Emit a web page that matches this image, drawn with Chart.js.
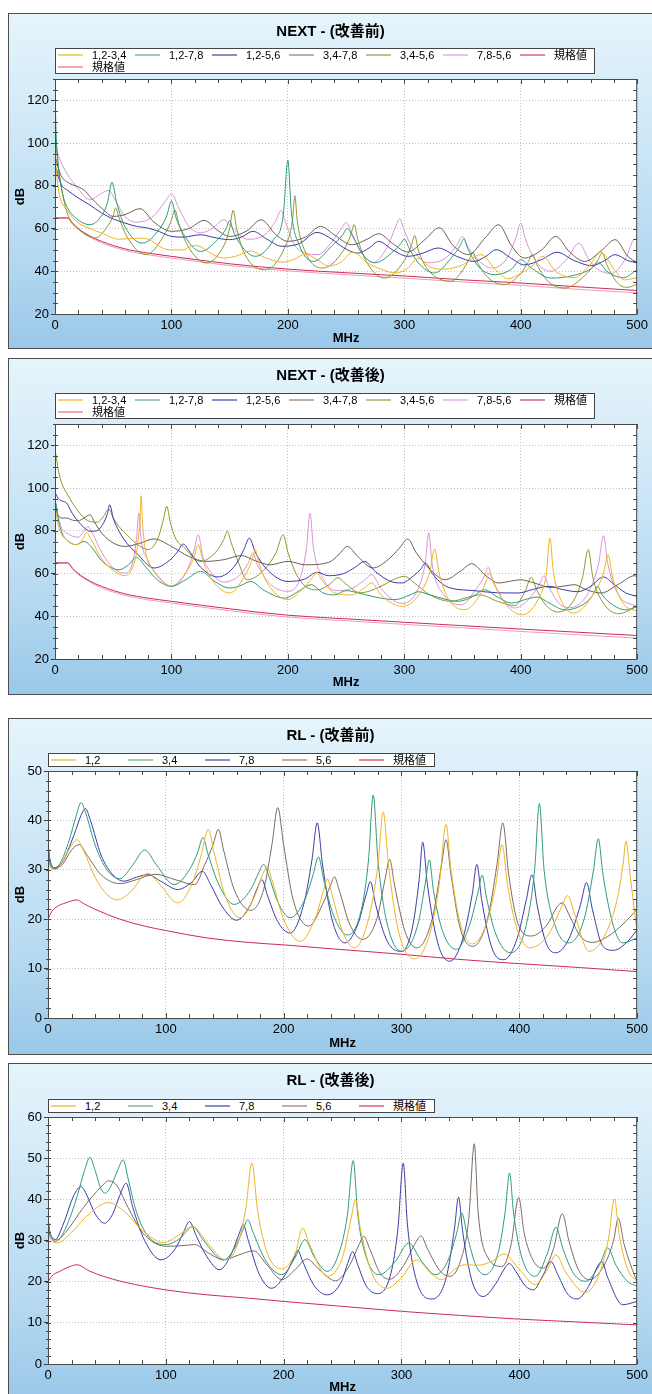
<!DOCTYPE html>
<html>
<head>
<meta charset="utf-8">
<script src="https://cdn.jsdelivr.net/npm/chart.js@4.4.0/dist/chart.umd.min.js"></script>
<style>
  body { margin: 0; width: 652px; height: 1394px; overflow: hidden; background: #fff; position: relative;
         font-family: "Liberation Sans", Arial, "Noto Sans CJK JP", sans-serif; }
  .panel { position: absolute; left: 8px; width: 645px; border: 1px solid #4d4d4d; box-sizing: border-box;
           background: linear-gradient(to bottom, #e6f4fc 0%, #d2eaf8 30%, #b7daf1 70%, #9ac8e9 100%); }
  .panel canvas { position: absolute; left: 0; top: 0; }
  .ttl { position: absolute; left: 0; width: 643px; text-align: center; font-weight: bold; font-size: 15px;
         line-height: 18px; color: #000; }
  .lg { position: absolute; background: #fff; border: 1px solid #444; box-sizing: border-box; }
  .li { position: absolute; height: 12px; line-height: 12px; font-size: 11px; padding-left: 34px; white-space: nowrap; color: #000; }
  .sw { position: absolute; left: 0; top: 5px; width: 25px; height: 2px; }
</style>
</head>
<body>

<div class="panel" style="top:13px;height:336px">
  <canvas id="c1" width="643" height="334"></canvas>
  <div class="ttl" style="top:8px">NEXT - (改善前)</div>
  <div class="lg" id="l1" style="left:46px;top:34px;width:540px;height:26px"></div>
</div>
<div class="panel" style="top:358px;height:337px">
  <canvas id="c2" width="643" height="335"></canvas>
  <div class="ttl" style="top:7px">NEXT - (改善後)</div>
  <div class="lg" id="l2" style="left:46px;top:34px;width:540px;height:26px"></div>
</div>
<div class="panel" style="top:718px;height:337px">
  <canvas id="c3" width="643" height="335"></canvas>
  <div class="ttl" style="top:7px">RL - (改善前)</div>
  <div class="lg" id="l3" style="left:39px;top:34px;width:387px;height:14px"></div>
</div>
<div class="panel" style="top:1063px;height:337px">
  <canvas id="c4" width="643" height="335"></canvas>
  <div class="ttl" style="top:7px">RL - (改善後)</div>
  <div class="lg" id="l4" style="left:39px;top:35px;width:387px;height:14px"></div>
</div>

<script>
// axes
const xTicks = [0, 100, 200, 300, 400, 500];
const nextTicks = [20, 40, 60, 80, 100, 120];
const rl1Ticks = [0, 10, 20, 30, 40, 50];
const rl2Ticks = [0, 10, 20, 30, 40, 50, 60];

const nextLabels = ['1,2-3,4', '1,2-7,8', '1,2-5,6', '3,4-7,8', '3,4-5,6', '7,8-5,6', '規格値', '規格値'];
const rlLabels = ['1,2', '3,4', '7,8', '5,6', '規格値'];
const nextColors = ['#f0b322', '#2f9b7b', '#3b3ba6', '#6e5f54', '#8b982c', '#d894d6', '#cc2c57', '#f29db3'];
const nextLegendColors = ['#efd47e', '#9ecab6', '#8590c8', '#bfb0a5', '#bcc48e', '#e8c6e8', '#de8b9c', '#f2a6b8'];
const rlColors = ['#f0b322', '#2f9b7b', '#3b3ba6', '#7a6c62', '#cc2c57'];
const rlLegendColors = ['#efd47e', '#9ecab6', '#8590c8', '#bfb0a5', '#de8b9c'];

// NEXT 改善前
const n1_1234 = [[0,96],[1,88],[3,78],[5,73.5],[10,68.8],[20,62.6],[30,60],[40,57.9],[55,55],[70,55.5],[80,55],[92,51],[100,50],[110,50],[118,52],[125,51.5],[135,48],[145,46.2],[155,47],[168,49.5],[180,46.5],[195,44.3],[205,45.5],[215,48],[225,45.5],[235,42.5],[245,44],[256,49],[268,44],[280,41],[292,39.2],[302,41],[312,46],[322,42],[335,41],[350,43],[366,47.8],[378,41],[389,36.5],[400,39],[410,42.5],[419,47],[430,40],[446,37],[458,42],[469,48.9],[480,41],[489,36],[500,37]];
const n1_1278 = [[0,126],[1,104],[2,95],[4,84],[7,75],[10,70.4],[20,64],[30,61.8],[40,66],[45,72],[49,81.6],[53,72],[60,61],[75,53.2],[90,60],[96,66],[100,73],[104,65],[112,56],[125,49.3],[140,55],[147,60],[150,63.8],[153,59],[160,52],[172,47],[188,55],[196,66],[200,92],[203,68],[210,52],[222,44.6],[238,52],[247,57],[251,60],[256,56],[264,48],[275,44],[290,49],[297,53],[300,55.1],[304,51],[312,44],[326,39.2],[340,46],[348,52],[351,55.1],[355,50],[364,42],[378,38.4],[392,41],[400,45.4],[408,42],[426,36.8],[445,38],[460,41],[467,44],[474,40],[488,37],[500,40.7]];
const n1_1256 = [[0,86],[1,88],[3,84],[6,80],[10,78.2],[20,74.3],[30,71],[40,67.3],[50,64.5],[60,62.6],[70,61],[80,60.2],[90,58.5],[100,56.3],[110,56],[125,57.1],[135,56],[150,54.8],[160,56],[170,58.7],[182,55],[195,51.7],[210,53],[225,58.2],[235,56],[248,51],[260,48.5],[270,51],[278,54],[290,50],[303,47],[316,48.5],[329,50.9],[345,47],[360,44.6],[370,47],[379,50.1],[392,46],[403,43],[418,45.5],[431,48.9],[446,45],[461,42.6],[472,45],[481,47.8],[492,45],[500,43.9]];
const n1_3478 = [[0,95],[1,92],[3,88],[6,84],[10,82],[15,80.5],[20,79.5],[25,78],[30,75],[40,69.6],[50,65.7],[60,66.5],[73,69.3],[85,63],[100,58.7],[115,60],[128,63.8],[140,59],[150,56.3],[165,59],[177,64.1],[190,57],[200,54],[215,56],[228,61],[240,57],[255,52.4],[268,55],[278,57.6],[290,53],[303,49],[318,55],[330,60.4],[342,52],[355,47.8],[370,56],[381,61.8],[392,52],[403,46.2],[418,50],[430,56.3],[442,49],[455,44.6],[470,50],[481,54.8],[492,47],[500,44]];
const n1_3456 = [[0,110],[1,100],[3,88],[6,78],[10,68],[20,60],[35,55.6],[45,61],[50,66],[52,69.6],[55,65],[62,56],[78,47.8],[95,58],[100,64],[103,68.8],[106,63],[114,52],[130,43.9],[145,52],[150,60],[153,68.5],[156,60],[163,48],[180,40.7],[198,52],[204,64],[206,75.4],[208,64],[215,49],[230,41.5],[248,50],[254,57],[257,61.8],[260,55],[268,44],[283,36.8],[300,45],[306,52],[309,56.7],[312,50],[320,41],[340,35.3],[352,42],[356,46],[359,48.9],[362,45],[372,37],[386,33.7],[400,39],[406,44],[410,47.8],[414,43],[424,35],[438,32.2],[455,38],[466,45],[470,48.5],[474,43],[484,34],[492,32.5],[500,34]];
const n1_7856 = [[0,92],[1,97],[3,94],[6,90],[10,86],[15,82],[20,78.5],[30,73.5],[40,76.5],[46,77.9],[52,73],[60,65.7],[70,63],[85,66],[95,73],[100,76.2],[106,70],[115,61],[125,58],[135,60],[145,64.1],[153,60],[165,55],[180,57],[190,64],[194,68.5],[198,63],[205,53],[215,48.5],[226,47.8],[238,54],[246,60],[250,62.9],[254,59],[262,50],[273,44],[285,51],[292,60],[296,64.6],[300,59],[308,50],[320,44],[335,46],[345,52],[350,56.3],[355,51],[364,45],[375,41.5],[388,46],[396,56],[400,62.6],[404,55],[414,44],[426,40],[440,46],[450,53.2],[458,46],[466,41],[478,39],[490,46],[498,55.1],[500,54]];
const n1_limA = [[0,65],[11,65],[15,62.5],[20,60],[30,56.5],[40,54],[60,50.5],[80,48.5],[100,47],[150,43.5],[200,41],[250,39.3],[300,37.8],[350,36],[400,34.5],[450,32.7],[500,31]];
const n1_limB = [[0,64.8],[11,64.8],[15,62],[20,59.5],[30,56],[40,53.3],[60,49.8],[80,47.7],[100,46.2],[150,42.7],[200,40.2],[250,38.4],[300,36.8],[350,35],[400,33.4],[450,31.5],[500,29.9]];

// NEXT 改善後
const n2_1234 = [[0,90],[1,88],[3,82],[6,78],[10,75.8],[18,73.5],[24,76],[27,79.3],[31,76],[40,67],[50,61.5],[60,59],[66,62],[70,70],[73,85],[74,96.4],[75,85],[78,70],[85,61],[100,54.3],[112,60],[119,67],[123,73.5],[127,66],[135,57],[150,50.9],[162,58],[169,66],[172,71.2],[175,65],[183,55],[200,47.8],[213,53],[221,58],[225,60.6],[229,57],[240,51],[255,50],[265,53],[272,55.6],[280,50],[298,44.6],[315,52],[322,61],[326,71.5],[330,60],[338,48],[352,43.1],[365,50],[370,56],[373,60.2],[377,55],[388,45],[401,40.7],[415,48],[422,60],[425,76.6],[428,61],[435,47],[446,41.5],[462,50],[471,60],[475,68.8],[479,58],[488,46],[500,42.3]];
const n2_1278 = [[0,94],[1,92],[3,85],[6,79],[10,75.8],[18,73.5],[25,75],[32,72],[40,66],[55,61.8],[63,64],[70,67.6],[78,63],[88,57],[100,54],[112,57],[125,61],[138,56],[150,53.2],[160,54.5],[168,56.3],[180,52],[197,48.5],[210,52],[220,54.8],[230,51],[240,50],[250,52],[260,51],[275,49],[292,47.8],[305,50],[312,51.5],[322,50],[335,48],[346,47],[358,49],[369,52.4],[380,49],[392,46.2],[405,48],[414,49],[425,46],[438,43],[455,46],[462,50],[466,54],[470,50],[480,45],[490,43],[500,44.6]];
const n2_1256 = [[0,98],[1,97],[3,95],[6,94],[10,93],[15,88],[20,84.4],[25,81.5],[30,79.8],[36,80],[41,83],[45,88],[47,92.2],[50,86],[55,79.8],[62,74],[70,69.6],[85,62.6],[98,66],[105,70],[110,73.8],[116,70],[125,63],[140,58.4],[155,64],[162,71],[167,76.6],[172,70],[182,62],[200,56.3],[215,57.5],[225,60.6],[235,59],[248,60],[258,63],[266,65.7],[275,61],[290,56],[298,55.6],[308,59],[314,62],[318,64.9],[324,60],[333,55],[340,53.2],[360,52],[380,51],[398,50.9],[410,52.5],[424,54],[436,52.5],[449,51.5],[460,54],[471,58.4],[480,55],[490,51],[500,49.3]];
const n2_3478 = [[0,95],[1,90],[3,87],[6,86],[10,86],[15,85],[20,84.7],[25,86],[30,87.5],[34,84],[40,79],[50,74.3],[60,72.7],[72,74],[85,76.2],[100,72.7],[115,68],[130,65.7],[145,66.5],[160,68.4],[172,66],[185,64.1],[200,65.7],[215,64.1],[235,65.2],[244,69],[251,72.7],[260,68],[273,62.6],[285,66],[296,72],[303,76.2],[310,70],[322,62],[335,57.1],[348,61],[358,64.6],[370,59],[381,55.6],[392,56.5],[400,57.1],[412,55.5],[426,53.5],[438,54.2],[446,54.8],[456,52.5],[469,50.9],[484,55],[498,59],[500,58.5]];
const n2_3456 = [[0,118],[1,115],[3,108],[6,102],[10,97.7],[15,93],[20,89.1],[25,86],[30,84.4],[36,84],[42,87],[46,90.2],[50,86],[55,82],[62,78],[70,74],[80,71.2],[88,76],[93,85],[96,91.5],[99,84],[104,76],[110,72.7],[125,65.7],[138,70],[145,76],[148,79.8],[151,75],[157,66],[165,57.1],[180,62],[190,70],[196,78.2],[200,70],[207,60],[215,54],[226,52.4],[236,55],[243,58],[250,55],[262,51],[280,54],[290,57],[300,58.7],[310,55],[322,50],[340,47],[355,49],[365,50],[380,47],[395,45],[404,52],[409,58.2],[414,52],[422,45],[432,42],[445,47],[453,58],[458,71.2],[462,58],[470,47],[484,41.2],[500,44.6]];
const n2_7856 = [[0,94],[1,92],[3,86],[6,81],[10,79],[15,77.5],[20,77],[25,80],[28,82],[32,79],[40,70],[50,62.6],[60,60.2],[66,64],[70,76],[72,88.3],[74,76],[80,66],[90,58],[100,54],[112,60],[119,70],[123,78.2],[127,68],[135,60],[145,56],[160,60],[166,65],[170,69.6],[174,64],[185,55],[200,51.7],[210,57],[216,72],[219,88.3],[222,72],[230,58],[242,52],[255,53],[266,57],[272,59.5],[280,53],[298,46],[312,53],[318,65],[321,79],[324,64],[334,50],[349,45.4],[362,53],[369,59],[372,62.9],[376,57],[386,47],[395,43.9],[410,50],[417,56],[420,59],[424,54],[433,46],[442,44],[458,51],[467,65],[471,77.7],[475,64],[484,50],[500,44.6]];
const n2_limA = [[0,65],[11,65],[15,62.5],[20,60],[30,56.5],[40,54],[60,50.5],[80,48.5],[100,47],[150,43.5],[200,40.5],[250,38.8],[300,37.2],[350,35.6],[400,34],[450,32.5],[500,31]];
const n2_limB = [[0,64.8],[11,64.8],[15,62],[20,59.5],[30,56],[40,53.3],[60,49.8],[80,47.7],[100,46.2],[150,42.6],[200,39.6],[250,37.9],[300,36.2],[350,34.6],[400,32.9],[450,31.3],[500,29.8]];

// RL 改善前
const r1_12 = [[0,33],[1,31],[3,30.3],[6,30],[12,31.5],[20,35],[24.7,36.1],[30,34],[40,28.5],[50,25],[59,23.9],[70,25.5],[84.6,29.3],[95,27],[110,23.3],[122,27],[130,33],[136,38.2],[141,33.5],[150,25],[163,20.3],[176,25],[182,29],[186,30.6],[190,28],[200,20],[214,15.5],[228,21],[234,26],[237,28.2],[241,25],[250,17.5],[260,14.2],[272,20],[280,31],[284.5,41.7],[289,31],[297,18],[311,12],[324,17],[332,27],[337.8,39.2],[342,30],[350,19],[360,15],[372,19],[380,27],[385.4,35.1],[390,27],[398,18],[409,14.2],[425,17],[435,22],[441,24.8],[447,21],[459,13.5],[472,16.5],[483,24],[488,31],[490.5,35.8],[494,29],[500,17.2]];
const r1_34 = [[0,36],[1,33],[2,31.5],[4.6,30.4],[10,31.2],[18,36],[24,41],[28,43.6],[32,41.5],[40,35],[50,30],[61,28.2],[72,31],[82,34],[92,31],[107,27],[120,30],[127,33.5],[131.5,36.5],[136,33],[145,27],[158,23],[172,26],[179,29.5],[183,31.1],[187,29],[195,23.5],[205.5,20.3],[218,24],[225,29],[229.5,32.6],[234,28],[242,21],[254,16.8],[266,22],[272,32],[276,45.1],[280,32],[287,20],[300,13.5],[314,19],[320,27],[323.7,32],[327,26],[335,17.5],[346.6,13.9],[358,19],[365,25.5],[368.5,28.9],[372,24.5],[380,17],[392.5,13.2],[405,18],[413,30],[417,43.4],[421,30],[430,19],[442,15.2],[455,20],[463,30],[467,36.3],[471,29],[480,18.5],[488,15.2],[500,16.2]];
const r1_78 = [[0,36],[1,33],[3,31],[5,30.4],[12,31.5],[22,37],[28,41],[31.7,42.4],[36,40],[45,33],[55,29],[64.5,27.7],[75,28.5],[84.6,29],[97,27.5],[110,26],[122,27.5],[131,29.7],[138,27],[148,22.5],[160,19.8],[172,23],[178,26.5],[181.6,28],[186,25],[195,19.5],[205.5,17.2],[217,23],[224,32],[228.5,39.5],[233,31],[241,20],[252,15.2],[263,19],[270,25],[273.6,27.6],[278,23],[288,15.5],[300,13.5],[309,18],[315,28],[318,35.6],[322,27],[331,15],[341,11.5],[352,16],[360,25],[364,31.1],[368,24],[377,14],[387,11.8],[398,16],[406,24],[410.8,29],[415,23],[423,15],[431,13.2],[442,16],[452,23],[457,27.4],[462,22],[471,14.5],[480,13.7],[492,15.5],[500,17.9]];
const r1_56 = [[0,35],[1,32],[3,30.5],[5,30.2],[12,31],[20,34],[26.4,35.1],[33,33],[45,29],[61,27.2],[75,28],[91,29.1],[108,28],[124.5,27],[133,31],[140,35],[144.6,38.2],[149,34],[158,26],[172,21.8],[183,26],[190,35],[195,42.6],[200,35],[208,24],[221.4,18.6],[233,23],[240,27],[243,28.6],[247,26],[256,19],[267,15.9],[279,20],[286,28],[290,32.1],[294,27],[303,17.5],[313,14.2],[326,20],[334,31],[337.8,36.1],[342,29],[350,18],[360.7,14.5],[373,20],[381,31],[386,39.5],[391,29],[399,19],[410,16.6],[424,19],[432,22.5],[436.5,23.3],[442,21],[452,16.5],[462,15.3],[475,16.5],[488,19],[500,22]];
const r1_lim = [[0,20],[3,21.5],[8,22.6],[15,23.3],[24.7,23.9],[30,23.2],[40,22],[61,20],[82,18.6],[100,17.7],[135,16.2],[170,15.3],[200,14.8],[241,14],[300,12.9],[347,11.9],[400,11],[452,10.2],[500,9.4]];

// RL 改善後
const r2_12 = [[0,33],[1,31],[3,30],[8,29.4],[20,32],[35,36.5],[51,39.2],[65,37],[80,32.5],[98,29.5],[112,31.5],[122.7,33.4],[135,29.5],[151,25.3],[162,30],[168,38],[173,48.8],[178,37],[186,27],[198.5,23.1],[210,27],[216,33],[222,29],[237,21.3],[250,26],[257,35],[261,39.9],[265,33],[275,22],[288,18.4],[300,21],[313,25.3],[325,22],[334,20.5],[345,23],[353.6,24.1],[365,24],[377,25],[387,26.7],[400,23],[413.6,19.3],[424,23],[431,26.5],[440,22],[456,17.4],[468,22],[476,31],[480.6,40.1],[485,31],[492,23],[500,20]];
const r2_34 = [[0,36],[1,33],[3,31],[8,30.2],[15,33],[25,41],[31,47],[35.6,50.2],[40,47],[45,42.5],[48.7,41.5],[53,43],[59,47],[63.8,49.6],[68,45],[75,37],[85,31],[100,29],[112,30.5],[122.7,33.4],[132,30],[149,25.3],[160,29],[166,33],[169.6,35],[174,32],[185,25],[198.5,21.7],[210,26],[218,30.2],[226,26],[237,22.5],[247,27],[254,36],[259,49.4],[263,36],[270,26],[281,21.7],[295,25],[306,29.4],[317,25],[329,21.7],[340,25.5],[347,32],[351,36.7],[356,31],[363,24],[371,21.7],[382,27],[388,37],[391.7,46.4],[395,37],[402,26],[413.6,21.3],[424,27],[431,33.2],[437,28],[446,22],[456,20.1],[468,24],[475,28.2],[482,24],[492,20],[500,18.9]];
const r2_78 = [[0,36],[1,33],[3,31],[6,30.2],[13,34],[22,41],[28,43.1],[33,41],[40,36.5],[48,34.2],[55,36.5],[61,41],[66.3,43.9],[72,38],[82,30],[96,25.3],[108,28],[115,32],[120,34.6],[126,31],[135,26],[145.6,22.9],[156,27],[162,31.5],[165.7,33.8],[170,30],[179,22],[189.7,18.4],[202,22],[209,26],[212,27.6],[216,25],[226,19],[237,16.8],[249,20],[255,25],[258.5,27.3],[263,24],[270,19],[279.6,17.1],[291,22],[297,33],[301.5,48.8],[305,34],[313,20],[326,15.8],[338,21],[345,33],[348.4,40.5],[352,32],[360,20],[369.5,16.4],[380,19.5],[387,23],[391.4,24.4],[397,22.5],[405,19],[412,18],[420,21.5],[426.7,24.9],[433,21.5],[441,17],[449,15.8],[460,19.5],[466,23.5],[470,24.9],[475,21],[487.7,14.4],[500,15.2]];
const r2_56 = [[0,35],[1,32],[3,30.5],[6,29.8],[15,32],[30,38],[45,43],[51.5,44.5],[58,43.5],[68,38],[80,32],[100,28.6],[112,28.7],[124.5,29],[136,27],[149,25.3],[162,26.5],[174.5,27.5],[186,24],[198.5,20.5],[210,23],[219.7,25.5],[230,23],[244,20.2],[256,24],[264,29],[268,31],[273,28],[282,22],[290,20.6],[302,24],[311,29],[316.6,31.1],[322,28],[333,22.5],[341,21.3],[350,25],[357,35],[361.8,53.5],[365,37],[373,26],[385.4,23.7],[393,29],[399.5,40.5],[404,32],[412,25],[420.7,23.3],[429,28],[436.5,36.5],[442,30],[450,23],[459.4,20.5],[472,24],[480,30],[484,35.4],[489,29],[500,19.7]];
const r2_lim = [[0,19.9],[3,21.3],[10,22.5],[17,23.5],[24.7,24.1],[35,22.6],[47,21.3],[64.5,19.9],[100,18],[135,16.8],[170,16],[200,15.2],[250,14],[300,12.8],[350,11.8],[400,10.9],[450,10.2],[500,9.5]];

Chart.defaults.font.family = '"Liberation Sans", Arial, "Noto Sans CJK JP", sans-serif';
Chart.defaults.color = '#000';

// white plot area, frame and minor tick marks
const frame = {
    id: 'frame',
    beforeDraw(chart) {
        const {ctx, chartArea: a} = chart;
        ctx.save();
        ctx.fillStyle = '#fff';
        ctx.fillRect(a.left, a.top, a.right - a.left, a.bottom - a.top);
        ctx.restore();
    },
    afterDraw(chart, args, opts) {
        const {ctx, chartArea: a, scales: {x, y}} = chart;
        ctx.save();
        ctx.strokeStyle = '#4a4a4a';
        ctx.lineWidth = 1;
        ctx.beginPath();
        for (let v = x.min; v <= x.max; v += opts.xMinor) {
            const px = Math.round(x.getPixelForValue(v)) + 0.5;
            const len = v % 100 === 0 ? 5 : 4;
            ctx.moveTo(px, a.bottom); ctx.lineTo(px, a.bottom - len);
            ctx.moveTo(px, a.top); ctx.lineTo(px, a.top + len);
        }
        for (let v = y.min; v <= y.max; v += opts.yMinor) {
            const py = Math.round(y.getPixelForValue(v)) + 0.5;
            ctx.moveTo(a.left - 2, py); ctx.lineTo(a.left + 3, py);
            ctx.moveTo(a.right, py); ctx.lineTo(a.right - 4, py);
        }
        ctx.stroke();
        ctx.strokeRect(a.left + 0.5, a.top + 0.5, a.right - a.left - 1, a.bottom - a.top);
        ctx.restore();
    }
};

function build(id, labels, colors, series, yMin, yMax, yTicks, yMinor, area, titlePad) {
    const canvas = document.getElementById(id);
    const W = canvas.width, H = canvas.height;
    return new Chart(canvas, {
        type: 'line',
        data: {
            datasets: series.map((d, i) => ({
                label: labels[i],
                data: d,
                borderColor: colors[i],
                borderWidth: 1,
                pointRadius: 0,
                fill: false,
                cubicInterpolationMode: 'monotone'
            }))
        },
        options: {
            responsive: false,
            animation: false,
            devicePixelRatio: 1,
            events: [],
            layout: { padding: { left: 0, top: area.top, right: W - area.right, bottom: 0 } },
            plugins: {
                legend: { display: false },
                title: { display: false },
                tooltip: { enabled: false },
                frame: { xMinor: 20, yMinor: yMinor }
            },
            scales: {
                x: {
                    type: 'linear', min: 0, max: 500,
                    afterBuildTicks: s => { s.ticks = xTicks.map(v => ({ value: v })); },
                    afterFit: s => { s.height = H - area.bottom; },
                    grid: { color: '#c2c2c2', drawTicks: false },
                    border: { display: false, dash: [1, 2] },
                    ticks: { padding: 4, font: { size: 13 }, maxRotation: 0, autoSkip: false },
                    title: { display: true, text: 'MHz', font: { size: 13, weight: 'bold' }, padding: { top: 0, bottom: titlePad } }
                },
                y: {
                    type: 'linear', min: yMin, max: yMax,
                    afterBuildTicks: s => { s.ticks = yTicks.map(v => ({ value: v })); },
                    afterFit: s => { s.width = area.left; },
                    grid: { color: '#c2c2c2', tickColor: '#333', tickLength: 4 },
                    border: { display: false, dash: [1, 2] },
                    ticks: { padding: 2, font: { size: 13 }, autoSkip: false },
                    title: { display: true, text: 'dB', font: { size: 13, weight: 'bold' }, padding: { top: 4, bottom: 0 } }
                }
            }
        },
        plugins: [frame]
    });
}

function legend(id, labels, colors, perRow) {
    const box = document.getElementById(id);
    labels.forEach((t, i) => {
        const it = document.createElement('div');
        it.className = 'li';
        it.style.left = (2 + 77 * (i % perRow)) + 'px';
        it.style.top = (Math.floor(i / perRow) * 12) + 'px';
        it.innerHTML = '<span class="sw" style="background:' + colors[i] + '"></span>' + t;
        box.appendChild(it);
    });
}

build('c1', nextLabels, nextColors, [n1_1234, n1_1278, n1_1256, n1_3478, n1_3456, n1_7856, n1_limA, n1_limB],
      20, 130, nextTicks, 5, { left: 46, right: 630, top: 65, bottom: 300 }, 2);
build('c2', nextLabels, nextColors, [n2_1234, n2_1278, n2_1256, n2_3478, n2_3456, n2_7856, n2_limA, n2_limB],
      20, 130, nextTicks, 5, { left: 46, right: 630, top: 65, bottom: 300 }, 4);
build('c3', rlLabels, rlColors, [r1_12, r1_34, r1_78, r1_56, r1_lim],
      0, 50, rl1Ticks, 2, { left: 39, right: 629, top: 52, bottom: 299 }, 3);
build('c4', rlLabels, rlColors, [r2_12, r2_34, r2_78, r2_56, r2_lim],
      0, 60, rl2Ticks, 2, { left: 39, right: 629, top: 53, bottom: 300 }, 4);

legend('l1', nextLabels, nextLegendColors, 7);
legend('l2', nextLabels, nextLegendColors, 7);
legend('l3', rlLabels, rlLegendColors, 5);
legend('l4', rlLabels, rlLegendColors, 5);
</script>
</body>
</html>
